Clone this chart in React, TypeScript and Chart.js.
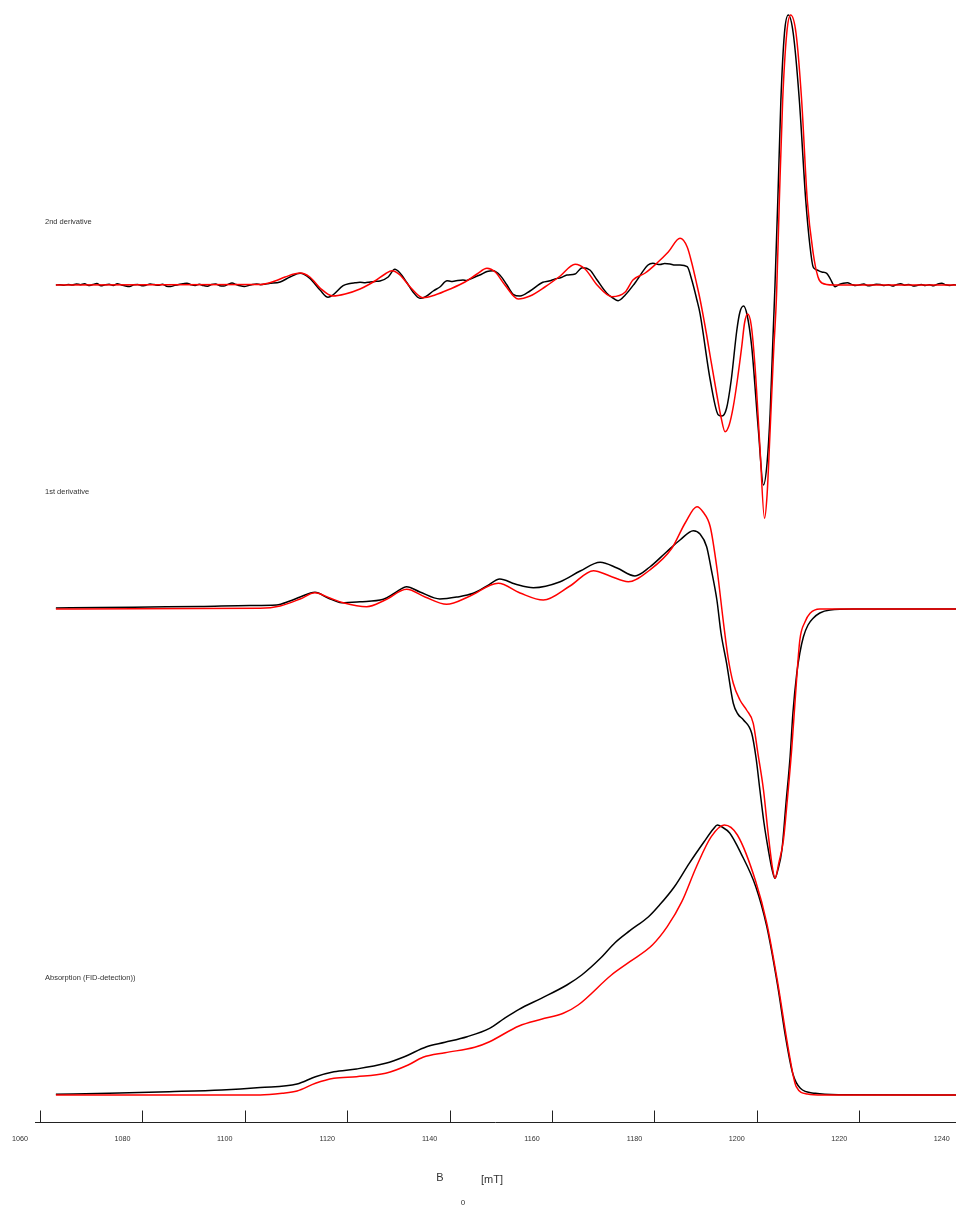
import React, { useEffect, useRef } from "react";
import { Chart, registerables } from "chart.js";

Chart.register(...registerables);

// ---------- axis ----------
const TICK_VALUES = [1060, 1080, 1100, 1120, 1140, 1160, 1180, 1200, 1220, 1240];
const X_MIN = 1059.02;
const X_MAX = 1238.9;

// ---------- 2nd derivative: experiment (black) ----------
const FIELD_D2_EXP = [
  1063.1, 1063.9, 1064.7, 1065.5, 1066.3, 1067.1, 1067.9, 1068.7, 1069.5, 1070.3,
  1071.1, 1071.9, 1072.7, 1073.5, 1074.3, 1075.1, 1075.9, 1076.7, 1077.5, 1078.3,
  1079.1, 1079.9, 1080.7, 1081.5, 1082.3, 1083.1, 1083.9, 1084.7, 1085.5, 1086.3,
  1087.1, 1087.9, 1088.7, 1089.5, 1090.3, 1091.1, 1091.9, 1092.7, 1093.5, 1094.3,
  1095.1, 1095.9, 1096.7, 1097.5, 1098.3, 1099.1, 1099.9, 1100.7, 1101.5, 1102.3,
  1103.1, 1103.9, 1104.7,
  1106.9, 1108.8, 1110.8, 1112.7, 1114.7, 1116.25, 1117.2, 1119.2, 1120.55, 1121.5,
  1122.5, 1123.5, 1124.45, 1125.4, 1126.4, 1128.0, 1129.3, 1130.3, 1131.7, 1132.85,
  1134.2, 1135.2, 1136.8, 1138.1, 1139.5, 1140.3, 1141.05, 1142.6, 1143.3, 1144.0,
  1145.9, 1147.3, 1148.5, 1149.8, 1151.2, 1152.4, 1153.75, 1155.7, 1158.2, 1159.4,
  1160.6, 1161.8, 1162.9, 1164.5, 1165.9, 1167.4, 1168.8, 1170.7, 1171.9, 1172.9,
  1174.3, 1176.2, 1178.75, 1179.7, 1181.1, 1182.0, 1183.05, 1184.0, 1185.0, 1186.4,
  1187.3, 1188.3, 1188.9, 1190.9, 1192.5, 1193.2, 1194.1, 1195.0, 1196.1, 1196.7,
  1197.4, 1198.1, 1199.0, 1200.3, 1201.3, 1202.0, 1202.6, 1203.1, 1203.55, 1204.1,
  1204.7, 1205.4, 1206.15, 1207.1, 1208.3, 1209.55, 1210.4, 1211.0, 1211.75, 1212.7,
  1213.65, 1214.3, 1215.3,
  1216.1, 1216.9, 1217.7, 1218.5, 1219.3, 1220.1, 1220.9, 1221.7, 1222.5, 1223.3,
  1224.1, 1224.9, 1225.7, 1226.5, 1227.3, 1228.1, 1228.9, 1229.7, 1230.5, 1231.3,
  1232.1, 1232.9, 1233.7, 1234.5, 1235.3, 1236.1, 1236.9, 1237.7, 1238.5, 1238.9,
];
const D2_EXP = [
  0, 0.3, -0.3, 0.5, 0, 1, 0.3, 1.2, -0.5, 0.4,
  1.5, -0.8, 0.2, 0.8, -0.5, 1.3, 0, -1, -1.5, 0.2,
  0.6, -0.8, -0.2, 1, 0.4, -0.3, 0.8, -1.2, -1.6, -0.4,
  0.6, 1.2, 1.8, 0.3, -0.5, 0.8, -0.6, -1.2, 0.4, 0.9,
  -0.7, -1, 0.6, 2, 0.5, -0.8, -1.4, -0.6, 0.5, 1,
  0.3, 0.8, 1.5,
  3, 8, 11.7, 6.7, -5, -12.3, -10, -0.7, 1.5, 2.2,
  2.7, 2.2, 3, 3.6, 4, 8, 15.7, 12, 2, -7,
  -13.3, -12, -6, -2, 4.3, 3.6, 4, 5, 4.6, 6,
  10, 13.5, 14.3, 10, 0, -9.3, -11, -6, 2.7, 4,
  6, 7.5, 10, 11, 17.3, 15, 5, -8.3, -13, -15.7,
  -10, 2, 20, 21.7, 20.5, 21.5, 21, 20, 20, 18.3,
  5, -15, -28.3, -95, -130, -131, -123, -95, -45, -27,
  -21, -30, -61.7, -145, -200, -178, -128, -60, 0, 85,
  185, 252, 270, 252, 185, 85, 38, 18, 15, 13,
  11.7, 6.7, -1.7,
  0.5, 1.8, 2.3, 0.6, -0.6, 0.2, 1, -0.8, -0.3, 0.8,
  0.5, -0.6, 0.3, -1, 0.4, 1.2, -0.2, 0.5, -0.9, -0.4,
  0.6, -0.5, 0.3, -0.8, 0.9, 1.8, 0.2, -0.5, 0.3, 0,
];

// ---------- 2nd derivative: simulation (red) ----------
const FIELD_D2_SIM = [
  1063.1, 1103.0, 1105.9, 1107.85, 1110.8, 1112.7, 1114.7, 1117.2, 1119.6, 1122.5,
  1125.4, 1127.4, 1128.75, 1130.3, 1132.3, 1134.8, 1137.15, 1140.1, 1143.0, 1145.35,
  1147.3, 1148.9, 1150.8, 1153.4, 1155.7, 1158.6, 1161.6, 1164.5, 1166.45, 1168.8,
  1171.7, 1174.3, 1175.8, 1178.2, 1180.5, 1182.7, 1185.0, 1186.4, 1187.3, 1188.3,
  1188.9, 1190.2, 1191.05, 1192.2, 1193.0, 1193.8, 1194.6, 1195.4, 1196.2, 1197.05,
  1197.6, 1198.2, 1198.9, 1199.65, 1200.6, 1201.5, 1202.0, 1202.6, 1203.25, 1203.85,
  1204.4, 1205.05, 1205.85, 1206.6, 1207.65, 1208.75, 1209.85, 1211.0, 1211.95, 1212.7,
  1214.9, 1238.9,
];
const D2_SIM = [
  0, 0.5, 4, 8, 12, 8, -3, -11, -9, -4,
  4, 11, 14.3, 10, -2, -12.7, -10, -4, 3, 11,
  16.7, 13, 0, -14, -11, -2, 9, 20.7, 16, 0,
  -11.7, -7, 5, 12, 22, 33, 46.7, 38, 22, 0,
  -14, -50, -76, -110, -132, -146.7, -140, -121.7, -95, -61.7,
  -38, -29, -40, -81.7, -161.7, -233.3, -210, -145, -70, -10,
  85, 185, 252, 270, 252, 185, 85, 32, 8, 2,
  0, 0,
];

// ---------- 1st derivative: experiment (black) ----------
const FIELD_D1_EXP = [
  1063.1, 1071.7, 1081.5, 1091.25, 1101.0, 1106.2, 1108.8, 1110.8, 1113.7, 1116.25,
  1118.9, 1122.5, 1127.05, 1129.3, 1131.6, 1134.2, 1138.1, 1141.45, 1144.6, 1147.3,
  1149.8, 1152.8, 1156.35, 1161.6, 1165.5, 1169.4, 1172.7, 1176.2, 1179.1, 1182.4,
  1185.0, 1187.6, 1188.9, 1190.2, 1191.05, 1192.2, 1193.0, 1194.1, 1195.4, 1196.3,
  1197.4, 1199.0, 1199.85, 1200.6, 1201.4, 1202.25, 1203.0, 1203.55, 1204.1, 1204.9,
  1205.7, 1206.5, 1207.05, 1207.8, 1208.4, 1209.1, 1210.0, 1211.0, 1212.3, 1214.3,
  1218.85, 1238.9,
];
const D1_EXP = [
  0, 0.5, 1, 1.5, 2.5, 3, 7, 11, 15.7, 10,
  5.3, 6.3, 8.7, 15, 21.3, 16, 9, 11, 14.7, 22,
  29, 24, 20.3, 26.3, 37, 45.7, 40, 32, 41, 56.3,
  68, 77.3, 74, 61.3, 40, 8, -25, -55.3, -95.3, -106,
  -112, -125.3, -150, -182, -215, -242, -262, -270.3, -262, -242,
  -195, -148.7, -105, -65.3, -45, -28.7, -17, -10.3, -5, -2,
  -1, -1,
];

// ---------- 1st derivative: simulation (red) ----------
const FIELD_D1_SIM = [
  1063.1, 1103.0, 1106.9, 1110.8, 1113.7, 1116.6, 1119.2, 1123.8, 1127.4, 1131.6,
  1135.2, 1139.4, 1144.0, 1149.5, 1153.75, 1158.3, 1163.5, 1168.1, 1171.3, 1174.9,
  1179.1, 1183.4, 1186.0, 1188.3, 1189.5, 1190.9, 1192.2, 1193.5, 1194.4, 1195.4,
  1196.7, 1198.0, 1199.3, 1200.2, 1201.3, 1202.2, 1203.0, 1203.55, 1204.3, 1205.2,
  1205.9, 1206.8, 1207.65, 1208.4, 1209.4, 1210.4, 1212.3, 1238.9,
];
const D1_SIM = [
  -1, -0.3, 2, 9, 15.3, 10, 5.3, 1.3, 8, 18.7,
  11, 3.7, 12, 24.7, 15, 8, 22, 37.3, 32, 26.3,
  38, 59.7, 85, 101.3, 96, 81.3, 40, -15.3, -50, -75.3,
  -92, -102, -115.3, -145, -182, -225, -258, -270.3, -255, -232,
  -195, -142, -80, -32, -14, -5.3, -1, -1,
];

// ---------- Absorption: experiment (black) ----------
const FIELD_ABS_EXP = [
  1063.1, 1073.5, 1085.2, 1095.5, 1103.0, 1110.2, 1113.8, 1117.4, 1121.8, 1127.5,
  1131.15, 1135.5, 1139.1, 1143.4, 1147.8, 1150.7, 1153.55, 1157.9, 1162.9, 1165.8,
  1169.45, 1172.3, 1175.2, 1178.85, 1181.0, 1183.9, 1186.8, 1189.7, 1191.5, 1192.3,
  1193.2, 1194.7, 1196.9, 1199.8, 1201.95, 1204.1, 1205.6, 1207.0, 1208.5, 1211.4,
  1216.25, 1238.9,
];
const ABS_EXP = [
  0.7, 1.8, 3.3, 5, 7.5, 11, 18.3, 23.3, 26, 31.7,
  38.3, 48.3, 52.7, 58.3, 66.7, 76.7, 85.7, 96.7, 110, 120,
  136.7, 152.3, 164.3, 178.3, 190, 208.3, 231.7, 253.3, 266, 270,
  268, 262, 241.7, 208.3, 168.3, 108.3, 58.3, 21.7, 6.7, 1.7,
  0.3, 0,
];

// ---------- Absorption: simulation (red) ----------
const FIELD_ABS_SIM = [
  1063.1, 1103.0, 1107.3, 1110.2, 1113.8, 1117.4, 1121.8, 1127.5, 1131.9, 1134.8,
  1139.1, 1144.9, 1147.8, 1153.55, 1157.9, 1162.2, 1165.1, 1171.6, 1175.2, 1179.6,
  1182.5, 1185.35, 1188.2, 1191.1, 1193.65, 1196.2, 1199.8, 1201.95, 1204.1, 1206.3,
  1207.7, 1209.9, 1212.8, 1238.9,
];
const ABS_SIM = [
  0, 0, 1.7, 4, 11.7, 16.7, 18.3, 21.7, 30, 37.7,
  42.3, 47.7, 53.3, 69, 75.7, 81.7, 90, 120, 133.3, 150,
  168.3, 193.3, 228.3, 258.3, 270, 260, 213.3, 171.7, 111.7, 41.7,
  8.3, 1, 0, 0,
];

// ---------- texts ----------
const PANEL_LABELS = ["2nd derivative", "1st derivative", "Absorption (FID-detection))"];
const AXIS_TITLE = "B";
const AXIS_SUB = "0";
const AXIS_UNIT = "[mT]";

// ---------- layout (positions / styles) ----------
const W = 956;
const H = 1207;
const Y_MAX = 1122;
const OFFSET_D2 = 837;
const OFFSET_D1 = 514;
const OFFSET_ABS = 27;
const LABEL_Y = [222, 492, 978];
const BLACK = "#000000";
const RED = "#ff0000";
const FONT = '"Liberation Sans", Arial, Helvetica, sans-serif';

function toPoints(xs: number[], ys: number[], off: number) {
  return xs.map((x, i) => ({ x, y: ys[i] + off }));
}

const eprPlugin = {
  id: "eprAxis",
  afterDraw(chart: any) {
    const { ctx, chartArea: a, scales } = chart;
    const xs = scales.x;
    ctx.save();
    ctx.strokeStyle = "#222";
    ctx.lineWidth = 1;
    const yb = Math.round(a.bottom) + 0.5;
    ctx.beginPath();
    ctx.moveTo(a.left, yb);
    ctx.lineTo(a.right, yb);
    ctx.stroke();
    ctx.font = `7.2px ${FONT}`;
    ctx.fillStyle = "#333";
    ctx.textAlign = "center";
    ctx.textBaseline = "middle";
    for (const v of TICK_VALUES) {
      const px = xs.getPixelForValue(v);
      if (v >= xs.min && v <= xs.max) {
        const p = Math.round(px) + 0.5;
        ctx.beginPath();
        ctx.moveTo(p, yb - 12);
        ctx.lineTo(p, yb);
        ctx.stroke();
      }
      ctx.fillText(String(v), px - 20, a.bottom + 17);
    }
    // axis title
    ctx.font = `11px ${FONT}`;
    ctx.fillText(AXIS_TITLE, 440, a.bottom + 56);
    ctx.fillText(AXIS_UNIT, 492, a.bottom + 58);
    ctx.font = `8px ${FONT}`;
    ctx.fillText(AXIS_SUB, 463, a.bottom + 81);
    // panel labels
    ctx.font = `7.5px ${FONT}`;
    ctx.textAlign = "left";
    PANEL_LABELS.forEach((t, i) => ctx.fillText(t, 45, LABEL_Y[i]));
    ctx.restore();
  },
};

export default function App() {
  const ref = useRef<HTMLCanvasElement | null>(null);
  useEffect(() => {
    if (!ref.current) return;
    const line = (data: any[], color: string) => ({
      data,
      borderColor: color,
      backgroundColor: color,
      borderWidth: 1.5,
      pointRadius: 0,
      cubicInterpolationMode: "monotone" as const,
      fill: false,
    });
    const chart = new Chart(ref.current, {
      type: "line",
      data: {
        datasets: [
          line(toPoints(FIELD_D2_SIM, D2_SIM, OFFSET_D2), RED),
          line(toPoints(FIELD_D1_SIM, D1_SIM, OFFSET_D1), RED),
          line(toPoints(FIELD_ABS_SIM, ABS_SIM, OFFSET_ABS), RED),
          line(toPoints(FIELD_D2_EXP, D2_EXP, OFFSET_D2), BLACK),
          line(toPoints(FIELD_D1_EXP, D1_EXP, OFFSET_D1), BLACK),
          line(toPoints(FIELD_ABS_EXP, ABS_EXP, OFFSET_ABS), BLACK),
        ],
      },
      options: {
        responsive: false,
        animation: false,
        devicePixelRatio: 1,
        events: [],
        layout: { padding: { left: 35, right: 0, top: 0, bottom: H - Y_MAX } },
        scales: {
          x: { type: "linear", min: X_MIN, max: X_MAX, display: false },
          y: { type: "linear", min: 0, max: Y_MAX, display: false },
        },
        plugins: { legend: { display: false }, tooltip: { enabled: false } },
      },
      plugins: [eprPlugin],
    });
    return () => chart.destroy();
  }, []);
  return (
    <div style={{ position: "absolute", left: 0, top: 0, width: W, height: H, background: "#fff" }}>
      <canvas ref={ref} width={W} height={H} style={{ display: "block", width: W, height: H }} />
    </div>
  );
}
